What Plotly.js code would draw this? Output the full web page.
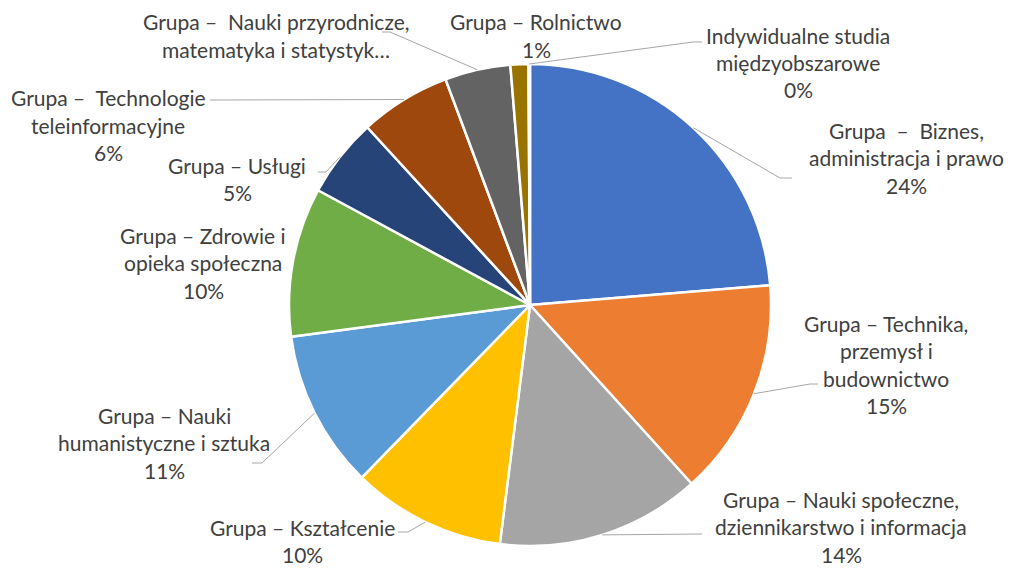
<!DOCTYPE html>
<html>
<head>
<meta charset="utf-8">
<script src="https://cdn.plot.ly/plotly-3.0.1.min.js"></script>
<style>html,body{margin:0;padding:0;background:#fff;}#chart{width:1010px;height:569px;}</style>
</head>
<body>
<div id="chart"></div>
<script>
// ---- data ----
const categories = [
  "Grupa – Biznes, administracja i prawo",
  "Grupa – Technika, przemysł i budownictwo",
  "Grupa – Nauki społeczne, dziennikarstwo i informacja",
  "Grupa – Kształcenie",
  "Grupa – Nauki humanistyczne i sztuka",
  "Grupa – Zdrowie i opieka społeczna",
  "Grupa – Usługi",
  "Grupa – Technologie teleinformacyjne",
  "Grupa – Nauki przyrodnicze, matematyka i statystyka",
  "Grupa – Rolnictwo",
  "Indywidualne studia międzyobszarowe"
];
const values = [23.7, 14.6, 13.7, 10.3, 10.6, 10.0, 5.3, 6.1, 4.4, 1.2, 0.1];
// displayed label lines (wrapped as in the original)
const labelLines = [
  ["Grupa\u00a0 –\u00a0 Biznes,", "administracja i prawo"],
  ["Grupa – Technika,", "przemysł i", "budownictwo"],
  ["Grupa – Nauki społeczne,", "dziennikarstwo i informacja"],
  ["Grupa – Kształcenie"],
  ["Grupa – Nauki", "humanistyczne i sztuka"],
  ["Grupa – Zdrowie i", "opieka społeczna"],
  ["Grupa – Usługi"],
  ["Grupa –\u00a0 Technologie", "teleinformacyjne"],
  ["Grupa –\u00a0 Nauki przyrodnicze,", "matematyka i statystyk…"],
  ["Grupa – Rolnictwo"],
  ["Indywidualne studia", "międzyobszarowe"]
];
const showPct = [true, true, true, true, true, true, true, true, false, true, true];

// ---- style / layout ----
const colors = ["#4472C4","#ED7D31","#A5A5A5","#FFC000","#5B9BD5","#70AD47","#264478","#9E480E","#636363","#997300","#255E91"];
const W = 1010, H = 569;
const CX = 530, CY = 305, R = 241;
const LINE = 27.5;
const FONT = {family: "Lato, 'Open Sans', sans-serif", size: 21, color: "#404040"};
// label block: centre x, first-line y (pixels), leader points after the slice anchor
const labelPos = [
  {x: 906, y: 130, lead: [[780,178],[792,178]]},
  {x: 886, y: 323, lead: [[810,384],[818,384]]},
  {x: 841, y: 499, lead: [[702,534]]},
  {x: 302, y: 527, lead: [[408,532],[398,532]]},
  {x: 164, y: 415, lead: [[262,463],[252,463]]},
  {x: 203, y: 235, lead: []},
  {x: 237, y: 165, lead: [[326,172],[318,172]]},
  {x: 108, y: 98,  lead: [[210,100]]},
  {x: 276, y: 22,  lead: [[390,32],[382,32]]},
  {x: 536, y: 22,  lead: []},
  {x: 798, y: 35,  lead: [[693,42],[702,42]]}
];

const px = x => x / W;
const py = y => 1 - y / H;

const total = values.reduce((a, b) => a + b, 0);
const annotations = [];
const shapes = [];
let cum = 0;
values.forEach((v, i) => {
  const mid = (cum + v / 2) / total * 2 * Math.PI;
  cum += v;
  const ax = CX + R * Math.sin(mid);
  const ay = CY - R * Math.cos(mid);
  const lines = labelLines[i].slice();
  if (showPct[i]) lines.push(Math.round(v / total * 100) + "%");
  const p = labelPos[i];
  lines.forEach((t, k) => {
    annotations.push({
      text: t, xref: "paper", yref: "paper",
      x: px(p.x), y: py(p.y + k * LINE),
      xanchor: "center", yanchor: "middle",
      showarrow: false, font: FONT
    });
  });
  if (p.lead.length) {
    let path = "M " + px(ax) + " " + py(ay);
    p.lead.forEach(pt => { path += " L " + px(pt[0]) + " " + py(pt[1]); });
    shapes.push({type: "path", xref: "paper", yref: "paper", path: path,
      line: {color: "#A6A6A6", width: 1}});
  }
});

const trace = {
  type: "pie",
  labels: categories,
  values: values,
  sort: false,
  direction: "clockwise",
  rotation: 0,
  textinfo: "none",
  hoverinfo: "label+percent",
  marker: {colors: colors, line: {color: "#ffffff", width: 2.5}},
  domain: {x: [px(CX - R), px(CX + R)], y: [py(CY + R), py(CY - R)]},
  showlegend: false
};

const layout = {
  width: W, height: H,
  margin: {l: 0, r: 0, t: 0, b: 0},
  paper_bgcolor: "#ffffff",
  plot_bgcolor: "#ffffff",
  showlegend: false,
  annotations: annotations,
  shapes: shapes
};

Plotly.newPlot("chart", [trace], layout, {displayModeBar: false, staticPlot: true});
</script>
</body>
</html>
